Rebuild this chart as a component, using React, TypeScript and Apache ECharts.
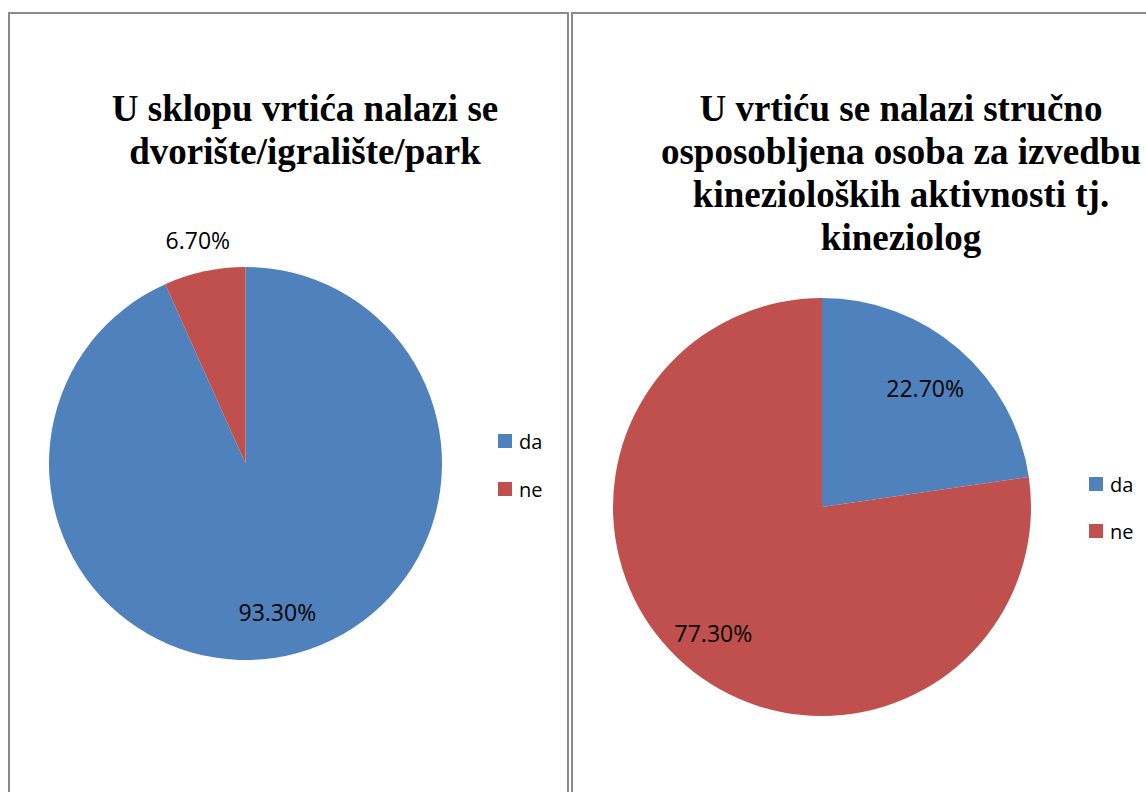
import React, { useEffect, useRef } from "react";
import * as echarts from "echarts";

const categories = ["da", "ne"];
const leftValues = [93.3, 6.7];
const rightValues = [22.7, 77.3];
const leftTitle = "U sklopu vrtića nalazi se\ndvorište/igralište/park";
const rightTitle = "U vrtiću se nalazi stručno\nosposobljena osoba za izvedbu\nkinezioloških aktivnosti tj.\nkineziolog";
const colors = ["#4F81BD", "#C0504D"];

const fmt = (p: any) => Number(p.value).toFixed(2) + "%";

function buildData(values: number[], showIdx: number[] | null, transparent: boolean) {
  return categories.map((name, i) => ({
    name,
    value: values[i],
    itemStyle: { color: transparent ? "rgba(0,0,0,0)" : colors[i] },
    label: { show: showIdx ? showIdx.includes(i) : false },
  }));
}

export default function App() {
  const ref = useRef<HTMLDivElement>(null);
  useEffect(() => {
    if (!ref.current) return;
    const chart = echarts.init(ref.current, null, { renderer: "svg" });
    const L = { cx: 245.5, cy: 463.5, r: 196.5 };
    const R = { cx: 822, cy: 507, r: 209 };
    const labelStyle = {
      position: "inside",
      formatter: fmt,
      fontFamily: "Open Sans",
      fontSize: 23,
      color: "#000",
    };
    const overlay = (c: any, r0: number, r1: number, values: number[], idx: number[]) => ({
      type: "pie",
      center: [c.cx, c.cy],
      radius: [r0, r1],
      silent: true,
      z: 5,
      label: labelStyle,
      labelLine: { show: false },
      data: buildData(values, idx, true),
    });
    const gray = "#8a8a8a";
    const line = (x1: number, y1: number, x2: number, y2: number) => ({
      type: "line",
      shape: { x1, y1, x2, y2 },
      style: { stroke: gray, lineWidth: 2 },
    });
    const legendText = { fontFamily: "Open Sans", fontSize: 20, color: "#000", padding: [0, 0, 0, 2] };
    const titleText = {
      fontFamily: "Liberation Serif",
      fontWeight: "bold",
      fontSize: 37,
      lineHeight: 43,
      color: "#000",
    };
    chart.setOption({
      animation: false,
      backgroundColor: "#fff",
      color: colors,
      title: [
        { text: leftTitle, left: 300, top: 82, textAlign: "center", textStyle: titleText },
        { text: rightTitle, left: 896, top: 82, textAlign: "center", textStyle: titleText },
      ],
      legend: [
        {
          orient: "vertical",
          left: 493,
          top: 426,
          itemWidth: 14,
          itemHeight: 14,
          itemGap: 28,
          icon: "rect",
          data: categories,
          textStyle: legendText,
        },
        {
          orient: "vertical",
          left: 1084,
          top: 469,
          itemWidth: 14,
          itemHeight: 14,
          itemGap: 27,
          icon: "rect",
          data: categories,
          textStyle: legendText,
        },
      ],
      graphic: [
        line(8, 13, 568, 13),
        line(572, 13, 1146, 13),
        line(9, 12, 9, 792),
        line(568, 12, 568, 792),
        line(572, 12, 572, 792),
      ],
      series: [
        {
          type: "pie",
          center: [L.cx, L.cy],
          radius: L.r,
          label: { show: false },
          labelLine: { show: false },
          data: buildData(leftValues, null, false),
        },
        {
          type: "pie",
          center: [R.cx, R.cy],
          radius: R.r,
          label: { show: false },
          labelLine: { show: false },
          data: buildData(rightValues, null, false),
        },
        overlay(L, 0.52 * L.r, L.r, leftValues, [0]),
        overlay(L, L.r, 1.292 * L.r, leftValues, [1]),
        overlay(R, 0.48 * R.r, R.r, rightValues, [0]),
        overlay(R, 0.56 * R.r, R.r, rightValues, [1]),
      ],
    });
    return () => chart.dispose();
  }, []);
  return (
    <div
      ref={ref}
      style={{ position: "absolute", left: 0, top: 0, width: 1146, height: 792 }}
    />
  );
}
